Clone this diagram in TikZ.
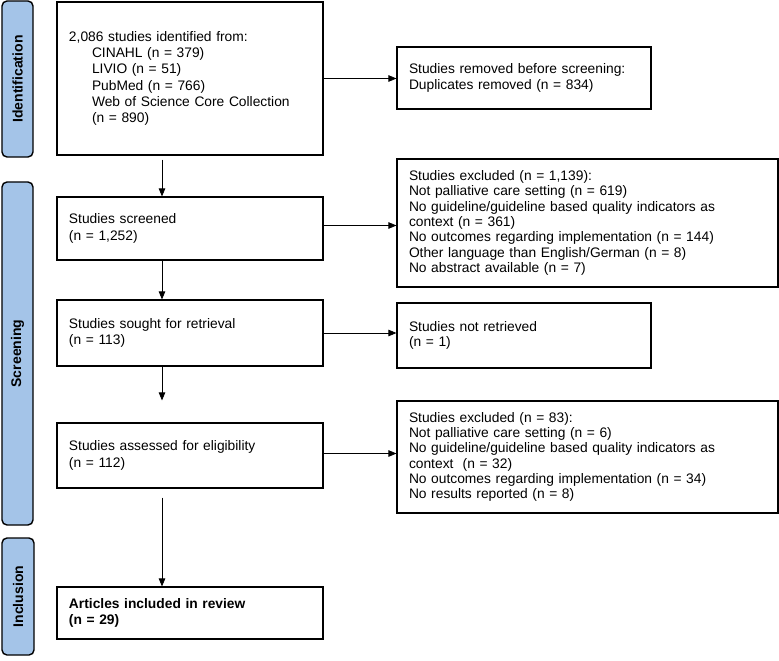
\documentclass[tikz,border=0pt]{standalone}
\usepackage{fontspec}
\setmainfont{Liberation Sans}
\usetikzlibrary{arrows.meta,calc}
\definecolor{phasefill}{RGB}{164,196,232}
\begin{document}
\begin{tikzpicture}[x=1bp,y=-1bp,
  box/.style={draw,line width=1.1bp,inner xsep=12bp,inner ysep=0pt,align=left,
    font=\fontsize{13.8bp}{16.2bp}\selectfont},
  rbox/.style={box,font=\fontsize{13.8bp}{15.3bp}\selectfont},
  phase/.style={draw,fill=phasefill,rounded corners=5bp,line width=1.4bp,rotate=90,
    inner sep=0pt,font=\fontsize{14bp}{16bp}\selectfont\bfseries},
  arr/.style={-{Triangle[length=8bp,width=6.5bp]},line width=0.8bp}]
\useasboundingbox (0,0) rectangle (779,661);
% phase labels
\node[phase,minimum width=156bp,minimum height=31bp] (pid) at (17.5,79) {Identification};
\node[phase,minimum width=343bp,minimum height=31bp] (pscr) at (17.5,353.5) {Screening};
\node[phase,minimum width=117bp,minimum height=32bp] (pinc) at (18,596.5) {Inclusion};
% left column
\node[box,text width=242bp,minimum height=153bp] (box1) at (190,78.5)
  {2,086 studies identified from:\\
   \hspace*{23bp}CINAHL (n = 379)\\
   \hspace*{23bp}LIVIO (n = 51)\\
   \hspace*{23bp}PubMed (n = 766)\\
   \hspace*{23bp}Web of Science Core Collection\\
   \hspace*{23bp}(n = 890)};
\node[box,text width=242bp,minimum height=63bp] (screened) at (190,228.5)
  {Studies screened\\(n = 1,252)};
\node[box,text width=242bp,minimum height=66bp] (sought) at (190,333)
  {Studies sought for retrieval\\(n = 113)};
\node[box,text width=242bp,minimum height=65bp] (assessed) at (190,455.5)
  {Studies assessed for eligibility\\(n = 112)};
\node[box,text width=242bp,minimum height=52bp] (included) at (190,613)
  {\bfseries Articles included in review\\\bfseries (n = 29)};
% right column
\node[rbox,text width=230bp,minimum height=62bp] (removed) at (524,78)
  {Studies removed before screening:\\Duplicates removed (n = 834)};
\node[rbox,text width=357bp,minimum height=128bp] (excl1) at (587.5,223)
  {Studies excluded (n = 1,139):\\
   Not palliative care setting (n = 619)\\
   No guideline/guideline based quality indicators as\\
   context (n = 361)\\
   No outcomes regarding implementation (n = 144)\\
   Other language than English/German (n = 8)\\
   No abstract available (n = 7)};
\node[rbox,text width=230bp,minimum height=65bp] (notret) at (524,335.5)
  {Studies not retrieved\\(n = 1)};
\node[rbox,text width=357bp,minimum height=112bp] (excl2) at (587.5,457)
  {Studies excluded (n = 83):\\
   Not palliative care setting (n = 6)\\
   No guideline/guideline based quality indicators as\\
   context\ \ (n = 32)\\
   No outcomes regarding implementation (n = 34)\\
   No results reported (n = 8)};
% connectors
\coordinate (cx) at (162,0);
\draw[arr] ($(box1.south -| cx)+(0,4)$) -- (screened.north -| cx);
\draw[arr] (screened.south -| cx) -- (sought.north -| cx);
\draw[arr] (sought.south -| cx) -- ($(assessed.north -| cx)+(0,-22)$);
\draw[arr] ($(assessed.south -| cx)+(0,9)$) -- (included.north -| cx);
\draw[arr] (box1.east) -- (box1.east -| removed.west);
\draw[arr] ($(screened.east)+(0,-3)$) -- ($(screened.east -| excl1.west)+(0,-3)$);
\draw[arr] (sought.east) -- (sought.east -| notret.west);
\draw[arr] ($(assessed.east)+(0,-2)$) -- ($(assessed.east -| excl2.west)+(0,-2)$);
\end{tikzpicture}
\end{document}
